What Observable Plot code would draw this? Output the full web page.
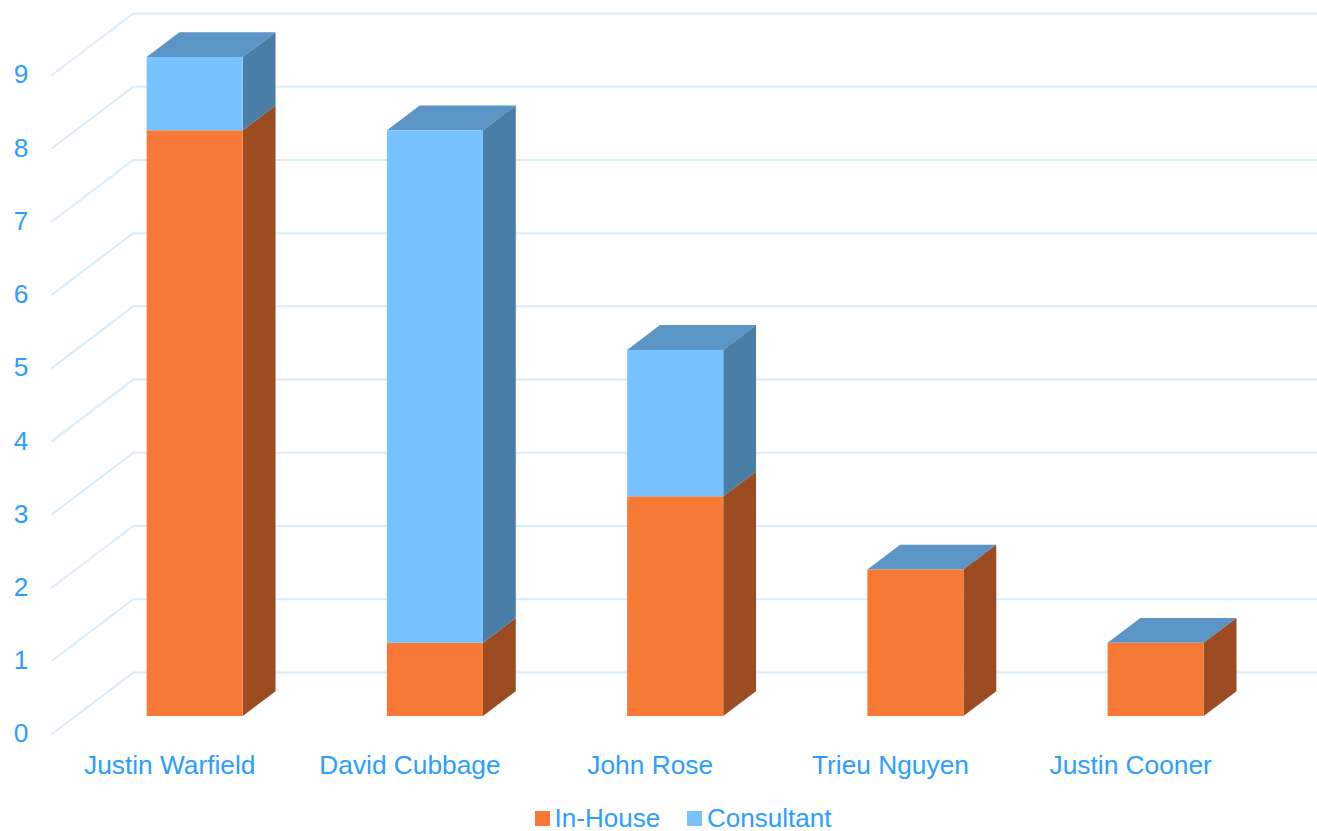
<!DOCTYPE html>
<html>
<head>
<meta charset="utf-8">
<script src="https://cdn.jsdelivr.net/npm/d3@7"></script>
<script src="https://cdn.jsdelivr.net/npm/@observablehq/plot@0.6"></script>
<style>
html,body{margin:0;padding:0;background:#fff;overflow:hidden}
#legend{display:flex;justify-content:center;align-items:center;height:26px;font:26px "Liberation Sans",Arial,sans-serif;color:#2B9EFF;padding-left:76px;box-sizing:border-box;width:1317px}
#legend i{display:inline-block;width:15px;height:15px;margin-right:5px}
#legend span{display:inline-flex;align-items:center;margin-right:27px;line-height:26px}
</style>
</head>
<body>
<div id="chart"></div>
<div id="legend"></div>
<script>
const names = ["Justin Warfield","David Cubbage","John Rose","Trieu Nguyen","Justin Cooner"];
const inHouse = [8,1,3,2,1];
const consultant = [1,7,2,0,0];
const yTicks = [0,1,2,3,4,5,6,7,8,9];
const seriesNames = ["In-House","Consultant"];

const colors = {
  "In-House": {front:"#F67935", side:"#9C4C21"},
  "Consultant": {front:"#78C3FF", side:"#4B7EA6"}
};
const topColor = "#5B95C6";
const textColor = "#2B9EFF";
const gridColor = "#D9ECFA";

// Oblique projection: depth z runs 0 (front of floor) to 1 (back wall), in data units
const depthX = 82 / 240.25;
const depthY = 62 / 73.2;
const halfBar = 0.2;
const zFront = 0.29, zBack = 0.69;
const px = (c, z) => c + z * depthX;
const py = (v, z) => v + z * depthY;

const segments = names.flatMap((name, i) => [
  {i, series:"In-House", y0:0, y1:inHouse[i]},
  {i, series:"Consultant", y0:inHouse[i], y1:inHouse[i] + consultant[i]}
]).filter(d => d.y1 > d.y0);

const sideRows = segments.flatMap((d, k) => [zFront, zBack].map(z => ({
  k, series:d.series,
  x: px(d.i + halfBar, z), y1: py(d.y0, z), y2: py(d.y1, z)
})));
const topRows = names.flatMap((name, i) => {
  const total = inHouse[i] + consultant[i];
  return [zFront, zBack].map(z => ({
    i, y: py(total, z),
    x1: px(i - halfBar, z), x2: px(i + halfBar, z)
  }));
});

const sideMarks = seriesNames.map(s => Plot.areaY(sideRows.filter(d => d.series === s), {
  x:"x", y1:"y1", y2:"y2", z:"k", fill:colors[s].side
}));
const frontMarks = seriesNames.map(s => Plot.rect(segments.filter(d => d.series === s), {
  x1:d => px(d.i - halfBar, zFront), x2:d => px(d.i + halfBar, zFront),
  y1:d => py(d.y0, zFront), y2:d => py(d.y1, zFront),
  fill:colors[s].front
}));

const plot = Plot.plot({
  width:1317, height:805,
  marginLeft:28, marginRight:0, marginTop:0, marginBottom:50,
  x:{domain:[-0.5,4.5], range:[50.8,1252]},
  y:{domain:[0,9], range:[734,75]},
  style:{fontFamily:'"Liberation Sans",Arial,sans-serif', color:textColor, background:"#fff", overflow:"hidden"},
  marks:[
    Plot.link(yTicks, {x1:-0.5, y1:d => d, x2:px(-0.5,1), y2:d => py(d,1), stroke:gridColor, strokeWidth:2}),
    Plot.ruleY(yTicks, {y:d => py(d,1), x1:px(-0.5,1), x2:px(4.5,1), stroke:gridColor, strokeWidth:2}),
    Plot.areaX(topRows, {y:"y", x1:"x1", x2:"x2", z:"i", fill:topColor}),
    ...sideMarks,
    ...frontMarks,
    Plot.axisY({ticks:yTicks, tickSize:0, tickPadding:0, label:null, fontSize:26.3, dy:-0.5, tickFormat:d => d}),
    Plot.axisX({ticks:names.map((n,i) => i), tickFormat:i => names[i], tickSize:0, tickPadding:0, label:null, fontSize:26.3, dx:-1.7})
  ]
});
document.getElementById("chart").appendChild(plot);

document.getElementById("legend").innerHTML = seriesNames.map(s =>
  `<span><i style="background:${colors[s].front}"></i>${s}</span>`).join("");
</script>
</body>
</html>
